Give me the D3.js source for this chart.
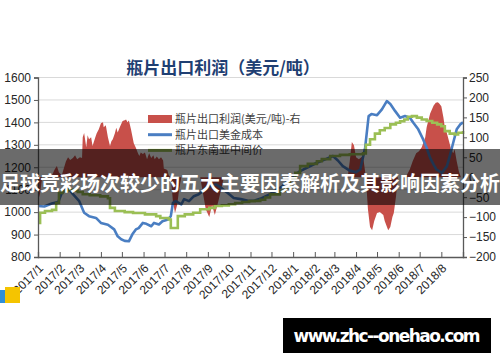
<!DOCTYPE html>
<html>
<head>
<meta charset="utf-8">
<script src="https://cdn.jsdelivr.net/npm/d3@7"></script>
<style>
  body { margin: 0; background: #fff; }
  svg { display: block; }
</style>
</head>
<body>
<div id="chart"></div>
<script>

// axis labels
const leftTicks = [800, 900, 1000, 1100, 1200, 1300, 1400, 1500, 1600];
const rightTicks = [-200, -150, -100, -50, 0, 50, 100, 150, 200, 250];
const monthLabels = ['2017/1','2017/2','2017/3','2017/4','2017/5','2017/6','2017/7','2017/8','2017/9','2017/10',
  '2017/11','2017/12','2018/1','2018/2','2018/3','2018/4','2018/5','2018/6','2018/7','2018/8'];
const seriesNames = ['瓶片出口利润(美元/吨)-右', '瓶片出口美金成本', '瓶片东南亚中间价'];

// days counted from 2017-01-01
const costDays = [0,9,17,21,29,34,40,43,50,59,66,73,83,90,100,109,114,119,124,130,135,140,144,150,155,162,166,173,178,186,
  190,193,197,205,209,216,223,230,236,240,247,255,262,271,280,290,302,310,320,332,342,350,360,375,386,399,411,422,429,436,
  446,455,461,468,473,477,485,492,499,504,511,518,525,532,537,544,551,556,561,566,570,578,585,589,594,599,604,608];
const costValues = [1027,1025,1035,1040,1045,1085,1102,1108,1080,1049,997,982,974,952,944,923,892,879,872,870,901,923,929,952,948,937,
  952,945,959,967,982,1041,1049,1035,1058,1049,1071,1080,1093,1108,1116,1123,1108,1086,1063,1058,1050,1052,1062,1080,1100,1116,
  1150,1183,1200,1220,1235,1250,1230,1205,1185,1178,1190,1287,1428,1437,1432,1458,1495,1482,1450,1421,1428,1421,1398,1369,1324,
  1287,1242,1212,1190,1175,1205,1250,1309,1369,1391,1400];

const priceDays = [0,3,10,20,26,30,35,42,50,57,64,74,89,100,103,110,124,136,153,169,175,187,190,200,210,222,232,245,253,263,
  273,282,292,302,310,318,325,332,346,353,360,368,375,386,399,406,418,432,446,465,469,475,482,489,496,504,512,518,524,529,
  535,542,549,556,564,571,577,582,589,596,601,608];
const priceValues = [952,997,1005,1010,1041,1086,1093,1100,1095,1090,1080,1075,1070,1062,1019,1005,1000,996,990,982,974,967,929,982,
  990,997,1013,1019,1027,1030,1035,1041,1045,1049,1050,1055,1065,1079,1095,1110,1146,1175,1205,1215,1227,1236,1250,1255,1258,
  1262,1300,1325,1350,1365,1375,1391,1398,1405,1413,1425,1428,1421,1413,1406,1398,1391,1383,1361,1350,1346,1354,1362];

const profitDays = [0,3,6,14,20,24,27,30,34,40,43,46,50,53,56,60,63,64,66,69,71,73,76,78,82,84,87,90,93,94,97,100,103,105,107,
  110,112,114,117,121,124,126,128,130,133,135,137,140,143,145,147,150,153,156,159,162,165,167,170,173,176,179,180,185,187,190,
  193,196,199,202,205,232,236,240,245,249,253,258,262,266,443,446,449,452,455,459,464,466,469,472,475,478,481,485,489,494,496,
  501,504,507,509,512,515,526,532,536,541,545,549,554,556,561,566,569,572,574,577,580,582,585,588,591,594,596,599,602,605,608];
const profitValues = [-60,-40,0,0,5,20,28,12,5,40,50,43,48,55,45,50,48,100,111,75,105,95,100,78,100,110,120,135,138,125,130,100,78,
  90,95,110,124,112,125,141,143,145,138,142,120,103,85,74,60,53,62,58,62,45,60,48,55,45,52,45,50,42,22,18,5,0,-60,-90,-70,-30,0,
  0,-40,-80,-100,-70,-95,-60,-30,0,0,40,88,80,50,45,52,40,0,-80,-125,-133,-110,-90,-87,-95,-110,-133,-125,-100,-90,-50,0,0,20,40,
  60,65,75,100,125,160,180,187,188,185,178,150,125,110,90,70,60,70,40,15,0,0];

const W = 500;
const H = 362;
const plot = {l: 38, r: 463, t: 77.5, b: 257};

const start = new Date(2017, 0, 1);
const day = d => d3.timeDay.offset(start, d);

const x = d3.scaleTime().domain([start, new Date(2018, 8, 1)]).range([plot.l, plot.r]);
const yL = d3.scaleLinear().domain([800, 1600]).range([plot.b, plot.t]);
const yR = d3.scaleLinear().domain([-200, 250]).range([plot.b, plot.t]);

const cost = costDays.map((d, i) => ({date: day(d), value: costValues[i]}));
const price = priceDays.map((d, i) => ({date: day(d), value: priceValues[i]}));
const profit = profitDays.map((d, i) => ({date: day(d), value: profitValues[i]}));

const svg = d3.select('#chart').append('svg')
  .attr('width', W)
  .attr('height', H);

const numFont = '"Liberation Sans", Arial, sans-serif';
const cjkFont = '"Noto Sans CJK SC", "Noto Sans", sans-serif';

// title
svg.append('text')
  .attr('x', 223).attr('y', 74)
  .attr('text-anchor', 'middle')
  .style('font-family', cjkFont)
  .style('font-size', '17px')
  .style('font-weight', 'bold')
  .style('fill', '#1f3f73')
  .text('瓶片出口利润（美元/吨）');

// gridlines
svg.append('g').attr('class', 'grid')
  .selectAll('line')
  .data(leftTicks.slice(1))
  .join('line')
  .attr('x1', plot.l).attr('x2', plot.r)
  .attr('y1', d => yL(d)).attr('y2', d => yL(d))
  .style('stroke', '#d9d9d9')
  .style('stroke-width', 1);

// profit area on the right scale
const area = d3.area()
  .x(d => x(d.date))
  .y0(yR(0))
  .y1(d => yR(d.value));

svg.append('path')
  .datum(profit)
  .attr('d', area)
  .style('fill', '#c8504a');

const line = d3.line()
  .x(d => x(d.date))
  .y(d => yL(d.value));

svg.append('path')
  .datum(cost)
  .attr('d', line)
  .style('fill', 'none')
  .style('stroke', '#4a7ec2')
  .style('stroke-width', 2.6)
  .style('stroke-linejoin', 'round');

svg.append('path')
  .datum(price)
  .attr('d', line.curve(d3.curveStepAfter))
  .style('fill', 'none')
  .style('stroke', '#9bbf55')
  .style('stroke-width', 2.6);

// axes
const axisL = d3.axisLeft(yL).tickValues(leftTicks).tickFormat(d3.format('d')).tickSize(4).tickPadding(3);
const axisR = d3.axisRight(yR).tickValues(rightTicks).tickFormat(d3.format('d')).tickSize(4).tickPadding(2);
const monthStarts = d3.timeMonth.range(start, new Date(2018, 8, 2));
const axisB = d3.axisBottom(x).tickValues(monthStarts).tickSize(-5).tickFormat('');

const gL = svg.append('g').attr('transform', `translate(${plot.l},0)`).call(axisL);
const gR = svg.append('g').attr('transform', `translate(${plot.r},0)`).call(axisR);
const gB = svg.append('g').attr('transform', `translate(0,${plot.b})`).call(axisB);

[gL, gR, gB].forEach(g => {
  g.select('.domain').style('stroke', '#595959').style('stroke-width', 1.3);
  g.selectAll('.tick line').style('stroke', '#595959');
  g.selectAll('text')
    .style('font-family', numFont)
    .style('font-size', '12px')
    .style('fill', '#262626');
});

// rotated month labels, ending at each month tick
gB.selectAll('.month')
  .data(monthLabels)
  .join('text')
  .attr('class', 'month')
  .attr('text-anchor', 'end')
  .attr('transform', (d, i) => `translate(${x(monthStarts[i]) + 3},${9}) rotate(-45)`)
  .attr('dy', '0.35em')
  .style('font-family', numFont)
  .style('font-size', '12px')
  .style('fill', '#262626')
  .text(d => d);

// legend
const legend = svg.append('g').attr('transform', 'translate(148,119)');
const row = legend.selectAll('g')
  .data(seriesNames)
  .join('g')
  .attr('transform', (d, i) => `translate(0,${i * 15.7})`);

row.filter((d, i) => i === 0).append('rect')
  .attr('x', 0).attr('y', -4).attr('width', 24).attr('height', 8)
  .style('fill', '#c8504a');
row.filter((d, i) => i > 0).append('line')
  .attr('x1', 0).attr('x2', 24)
  .style('stroke', (d, i) => i === 0 ? '#4a7ec2' : '#9bbf55')
  .style('stroke-width', 3);
row.append('text')
  .attr('x', 27).attr('dy', '0.36em')
  .style('font-family', cjkFont)
  .style('font-size', '11px')
  .style('fill', '#404040')
  .text(d => d);

// overlay banner
svg.append('rect')
  .attr('x', 0).attr('y', 149).attr('width', W).attr('height', 56)
  .style('fill', 'rgba(0,0,0,0.58)');
svg.append('text')
  .attr('x', 0).attr('y', 191)
  .style('font-family', cjkFont)
  .style('font-size', '20px')
  .style('font-weight', 'bold')
  .style('fill', '#fff')
  .text('足球竞彩场次较少的五大主要因素解析及其影响因素分析');

// bits of a logo at lower left
svg.append('rect').attr('x', 0).attr('y', 290).attr('width', 5).attr('height', 13).style('fill', '#2f8fd8');
svg.append('rect').attr('x', 5).attr('y', 287).attr('width', 15).attr('height', 16).style('fill', '#f5c400');

// site badge
svg.append('rect')
  .attr('x', 283).attr('y', 318).attr('width', 208).attr('height', 35)
  .style('fill', '#000');
svg.append('text')
  .attr('x', 387).attr('y', 342)
  .attr('text-anchor', 'middle')
  .attr('textLength', 187)
  .style('font-family', '"DejaVu Sans", sans-serif')
  .style('font-size', '17px')
  .style('font-weight', 'bold')
  .style('fill', '#fff')
  .text('www.zhc--onehao.com');

</script>
</body>
</html>
